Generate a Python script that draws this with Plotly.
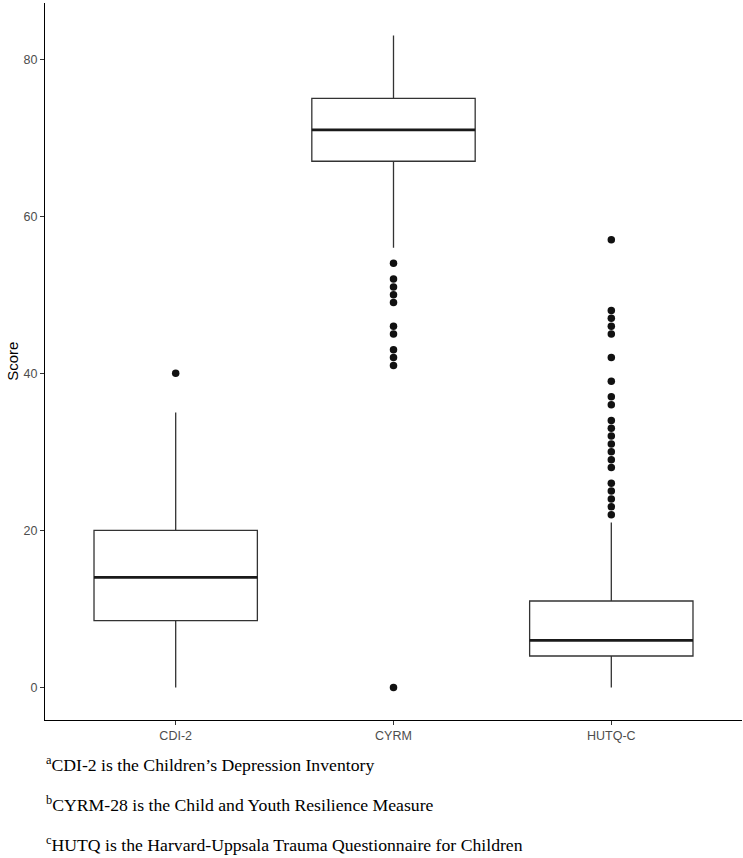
import plotly.graph_objects as go

categories = ["CDI-2", "CYRM", "HUTQ-C"]
positions = [1, 2, 3]
q1 = [8.5, 67, 4]
medians = [14, 71, 6]
q3 = [20, 75, 11]
lower_whisker = [0, 56, 0]
upper_whisker = [35, 83, 21]
outliers = [
    [40],
    [54, 52, 51, 50, 49, 46, 45, 43, 42, 41, 0],
    [57, 48, 47, 46, 45, 42, 39, 37, 36, 34, 33, 32, 31, 30, 29, 28, 26, 25, 24, 23, 22],
]
y_ticks = [0, 20, 40, 60, 80]
footnotes = [
    "<sup>a</sup>CDI-2 is the Children’s Depression Inventory",
    "<sup>b</sup>CYRM-28 is the Child and Youth Resilience Measure",
    "<sup>c</sup>HUTQ is the Harvard-Uppsala Trauma Questionnaire for Children",
]

BOX_W = 0.75
fig = go.Figure()

for i, cat in enumerate(categories):
    fig.add_trace(go.Box(
        x=[positions[i]], q1=[q1[i]], median=[medians[i]], q3=[q3[i]],
        lowerfence=[lower_whisker[i]], upperfence=[upper_whisker[i]],
        width=BOX_W, whiskerwidth=0, boxpoints=False,
        fillcolor="white", line=dict(color="#333333", width=1.3),
        showlegend=False, hoverinfo="skip",
    ))
    # thick median line
    fig.add_trace(go.Scatter(
        x=[positions[i] - BOX_W / 2, positions[i] + BOX_W / 2],
        y=[medians[i], medians[i]], mode="lines",
        line=dict(color="#1a1a1a", width=2.8),
        showlegend=False, hoverinfo="skip",
    ))
    fig.add_trace(go.Scatter(
        x=[positions[i]] * len(outliers[i]), y=outliers[i], mode="markers",
        marker=dict(color="#111111", size=7.5),
        showlegend=False, hoverinfo="skip",
    ))

H = 858
T, B = 3, 138
plot_h = H - T - B

def py(px):
    return (H - B - px) / plot_h

annotations = [
    dict(text="Score", textangle=-90, xref="paper", yref="paper",
         x=-0.047, y=0.5, xanchor="center", yanchor="middle", showarrow=False,
         font=dict(family="Liberation Sans, Arial", size=15, color="black")),
]
for k, txt in enumerate(footnotes):
    annotations.append(dict(
        text=txt, xref="paper", yref="paper", x=-0.002, y=py([764, 804, 844][k]),
        xanchor="left", yanchor="middle", showarrow=False,
        font=dict(family="Liberation Serif, Times New Roman", size=17.7, color="black")))

fig.update_layout(
    width=743, height=858,
    margin=dict(l=45, r=1, t=T, b=B),
    plot_bgcolor="white", paper_bgcolor="white",
    annotations=annotations,
    xaxis=dict(range=[0.4, 3.6], tickmode="array", tickvals=positions, ticktext=categories,
               showline=True, linecolor="black", linewidth=1.2, ticks="outside",
               ticklen=4, tickcolor="#333333", showgrid=False, zeroline=False,
               tickfont=dict(family="Liberation Sans, Arial", size=12.5, color="#4d4d4d")),
    yaxis=dict(range=[-4.15, 87.15], tickmode="array", tickvals=y_ticks,
               showline=True, linecolor="black", linewidth=1.2, ticks="outside",
               ticklen=4, tickcolor="#333333", showgrid=False, zeroline=False,
               tickfont=dict(family="Liberation Sans, Arial", size=12.5, color="#4d4d4d")),
)

fig.write_html("out.html", config={"displayModeBar": False},
               post_script="document.body.style.margin='0';document.body.style.overflow='hidden';")
